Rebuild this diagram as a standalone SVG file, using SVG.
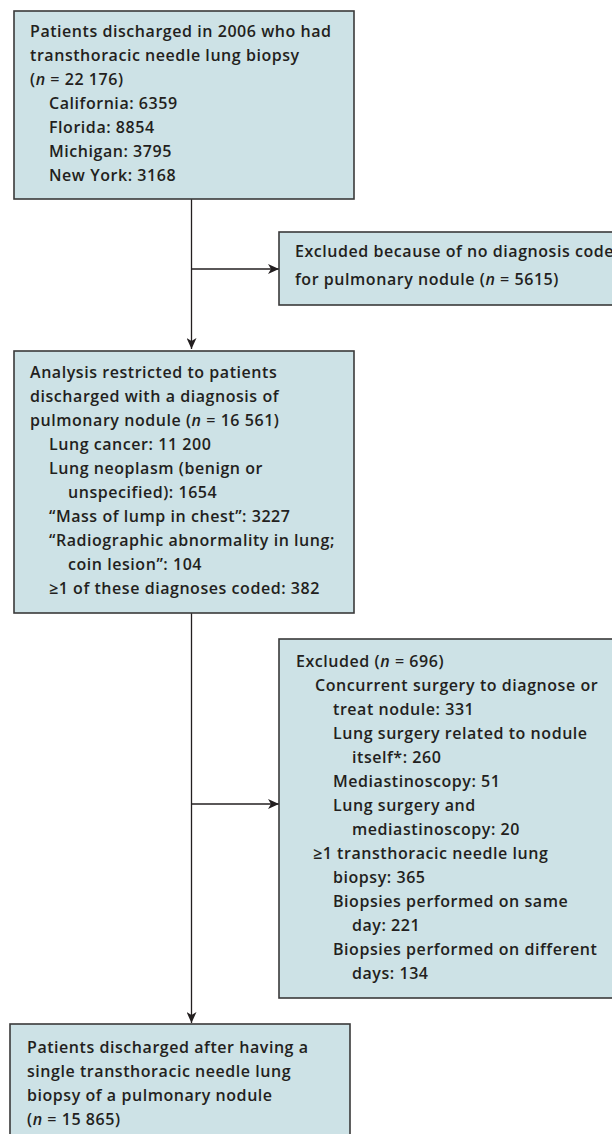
<svg xmlns="http://www.w3.org/2000/svg" width="612" height="1134" viewBox="0 0 612 1134">
<defs>
<marker id="arr" markerWidth="12" markerHeight="10" refX="11" refY="5" orient="auto" markerUnits="userSpaceOnUse">
<path d="M0,0 L11,5 L0,10 L3,5 Z" fill="#231f20"/>
</marker>
<style>
.box{fill:#cde2e6;stroke:#3a3a3a;stroke-width:1.6}
.t{font-family:"Open Sans","Liberation Sans",sans-serif;font-weight:600;font-size:16px;letter-spacing:0.55px;fill:#231f20}
.i{font-style:italic}
.c{stroke:#231f20;stroke-width:1.3;fill:none}
</style>
</defs>
<g id="connectors">
<line class="c" x1="191.5" y1="199" x2="191.5" y2="349" marker-end="url(#arr)"/>
<line class="c" x1="191.5" y1="269" x2="279" y2="269" marker-end="url(#arr)"/>
<line class="c" x1="191.5" y1="613" x2="191.5" y2="1023" marker-end="url(#arr)"/>
<line class="c" x1="191.5" y1="804" x2="279" y2="804" marker-end="url(#arr)"/>
</g>
<g id="n1">
<rect class="box" x="14" y="11" width="340" height="188"/>
<text class="t" x="30" y="37">Patients discharged in 2006 who had</text>
<text class="t" x="30" y="61">transthoracic needle lung biopsy</text>
<text class="t" x="30" y="85">(<tspan class="i">n</tspan> = 22 176)</text>
<text class="t" x="49" y="109">California: 6359</text>
<text class="t" x="49" y="133">Florida: 8854</text>
<text class="t" x="49" y="157">Michigan: 3795</text>
<text class="t" x="49" y="181">New York: 3168</text>
</g>
<g id="n2">
<rect class="box" x="279" y="232" width="345" height="73"/>
<text class="t" x="295" y="257">Excluded because of no diagnosis code</text>
<text class="t" x="295" y="285">for pulmonary nodule (<tspan class="i">n</tspan> = 5615)</text>
</g>
<g id="n3">
<rect class="box" x="14" y="351" width="340" height="262"/>
<text class="t" x="30" y="378">Analysis restricted to patients</text>
<text class="t" x="30" y="402">discharged with a diagnosis of</text>
<text class="t" x="30" y="426">pulmonary nodule (<tspan class="i">n</tspan> = 16 561)</text>
<text class="t" x="49" y="450">Lung cancer: 11 200</text>
<text class="t" x="49" y="474">Lung neoplasm (benign or</text>
<text class="t" x="68" y="498">unspecified): 1654</text>
<text class="t" x="49" y="522">“Mass of lump in chest”: 3227</text>
<text class="t" x="49" y="546">“Radiographic abnormality in lung;</text>
<text class="t" x="68" y="570">coin lesion”: 104</text>
<text class="t" x="49" y="594">≥1 of these diagnoses coded: 382</text>
</g>
<g id="n4">
<rect class="box" x="279" y="639" width="345" height="359"/>
<text class="t" x="296" y="667">Excluded (<tspan class="i">n</tspan> = 696)</text>
<text class="t" x="315" y="691">Concurrent surgery to diagnose or</text>
<text class="t" x="333" y="715">treat nodule: 331</text>
<text class="t" x="333" y="739">Lung surgery related to nodule</text>
<text class="t" x="352" y="763">itself*: 260</text>
<text class="t" x="333" y="787">Mediastinoscopy: 51</text>
<text class="t" x="333" y="811">Lung surgery and</text>
<text class="t" x="352" y="835">mediastinoscopy: 20</text>
<text class="t" x="313" y="859">≥1 transthoracic needle lung</text>
<text class="t" x="333" y="883">biopsy: 365</text>
<text class="t" x="333" y="907">Biopsies performed on same</text>
<text class="t" x="352" y="931">day: 221</text>
<text class="t" x="333" y="955">Biopsies performed on different</text>
<text class="t" x="352" y="979">days: 134</text>
</g>
<g id="n5">
<rect class="box" x="10" y="1024" width="340" height="120"/>
<text class="t" x="27" y="1053">Patients discharged after having a</text>
<text class="t" x="27" y="1077">single transthoracic needle lung</text>
<text class="t" x="27" y="1101">biopsy of a pulmonary nodule</text>
<text class="t" x="27" y="1125">(<tspan class="i">n</tspan> = 15 865)</text>
</g>
</svg>
